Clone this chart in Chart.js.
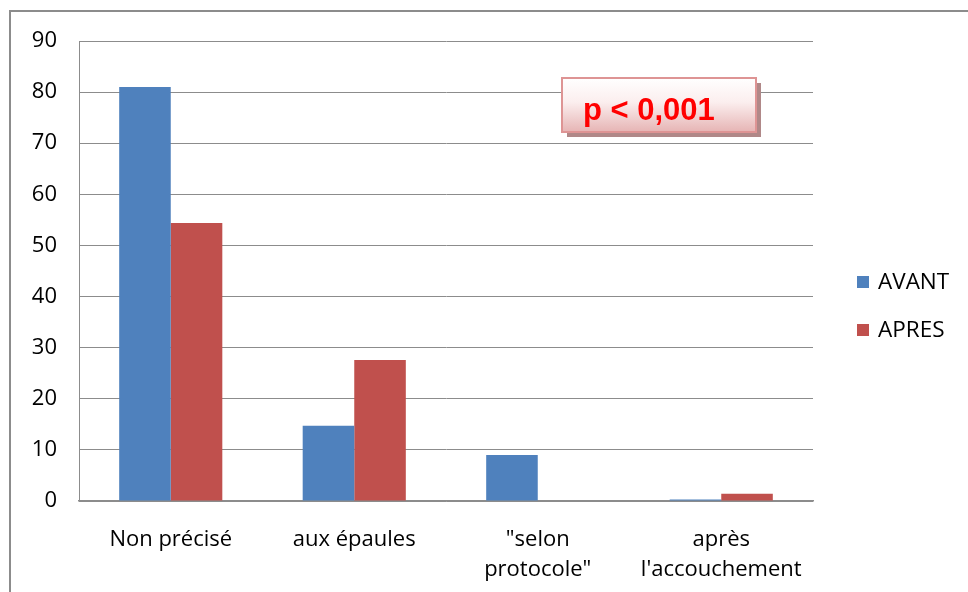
<!DOCTYPE html>
<html>
<head>
<meta charset="utf-8">
<script src="https://cdn.jsdelivr.net/npm/chart.js@4/dist/chart.umd.min.js"></script>
<style>
  html, body { margin: 0; padding: 0; background: #fff; }
  #wrap { width: 968px; height: 592px; }
</style>
</head>
<body>
<div id="wrap"><canvas id="c" width="968" height="592"></canvas></div>
<script>
const categories = ['Non précisé', 'aux épaules', ['"selon', 'protocole"'], ['après', "l'accouchement"]];
const avant = [81, 14.7, 9, 0.3];
const apres = [54.4, 27.6, 0, 1.4];
const yTicks = [0, 10, 20, 30, 40, 50, 60, 70, 80, 90];
const pLabel = 'p < 0,001';

const txtFont = "'Open Sans', sans-serif";

// frame, legend and the p-value box
const extras = {
    id: 'extras',
    beforeDraw(chart) {
        const ctx = chart.ctx;
        ctx.save();
        ctx.fillStyle = '#fff';
        ctx.fillRect(0, 0, chart.width, chart.height);
        ctx.strokeStyle = '#8c8c8c';
        ctx.lineWidth = 2;
        ctx.strokeRect(10, 11, 1000, 1000);
        ctx.restore();
    },
    afterDraw(chart) {
        const ctx = chart.ctx;
        ctx.save();
        // legend
        chart.data.datasets.forEach((ds, i) => {
            const y = 282 + i * 48;
            ctx.fillStyle = ds.backgroundColor;
            ctx.fillRect(857, y - 6, 12, 12);
            ctx.fillStyle = '#000';
            ctx.font = '22.5px ' + txtFont;
            ctx.textBaseline = 'middle';
            ctx.textAlign = 'left';
            ctx.fillText(ds.label, 878, y + 1);
        });
        // p box
        const bx = 562, by = 78, bw = 194, bh = 54;
        ctx.fillStyle = '#b08888';
        ctx.fillRect(bx + 5, by + 5, bw, bh);
        const g = ctx.createLinearGradient(0, by, 0, by + bh);
        g.addColorStop(0, '#ffffff');
        g.addColorStop(0.45, '#fbeeee');
        g.addColorStop(1, '#e6b4b4');
        ctx.fillStyle = g;
        ctx.fillRect(bx, by, bw, bh);
        ctx.strokeStyle = '#de9494';
        ctx.lineWidth = 2;
        ctx.strokeRect(bx, by, bw, bh);
        ctx.fillStyle = '#ff0000';
        ctx.font = "bold 31px 'Liberation Sans', Arial, sans-serif";
        ctx.textBaseline = 'middle';
        ctx.textAlign = 'left';
        ctx.fillText(pLabel, 583, by + bh / 2 + 6);
        ctx.restore();
    }
};

const ctx = document.getElementById('c').getContext('2d');
const chart = new Chart(ctx, {
    type: 'bar',
    data: {
        labels: categories,
        datasets: [
            { label: 'AVANT', data: avant, backgroundColor: '#4f81bd', borderWidth: 0 },
            { label: 'APRES', data: apres, backgroundColor: '#c0504d', borderWidth: 0 },
        ],
    },
    options: {
        responsive: false,
        animation: false,
        devicePixelRatio: 1,
        layout: { padding: { top: 41, right: 155, bottom: 0, left: 0 } },
        datasets: { bar: { categoryPercentage: 0.562, barPercentage: 1 } },
        plugins: {
            legend: { display: false },
            tooltip: { enabled: false },
        },
        scales: {
            x: {
                grid: { display: false, drawTicks: false },
                border: { display: true, color: '#8c8c8c', width: 1.5 },
                ticks: {
                    color: '#000',
                    font: { family: txtFont, size: 22, lineHeight: 1.4 },
                    padding: 23,
                    maxRotation: 0,
                    autoSkip: false,
                },
                afterFit(s) { s.height = 91; },
            },
            y: {
                min: 0,
                max: 90,
                afterBuildTicks(s) { s.ticks = yTicks.map(v => ({ value: v })); },
                grid: { color: '#8c8c8c', lineWidth: 1, drawTicks: false },
                border: { display: true, color: '#8c8c8c', width: 1 },
                ticks: {
                    color: '#000',
                    font: { family: txtFont, size: 22 },
                    padding: 22,
                },
                afterFit(s) { s.width = 79; },
            },
        },
    },
    plugins: [extras],
});
</script>
</body>
</html>
